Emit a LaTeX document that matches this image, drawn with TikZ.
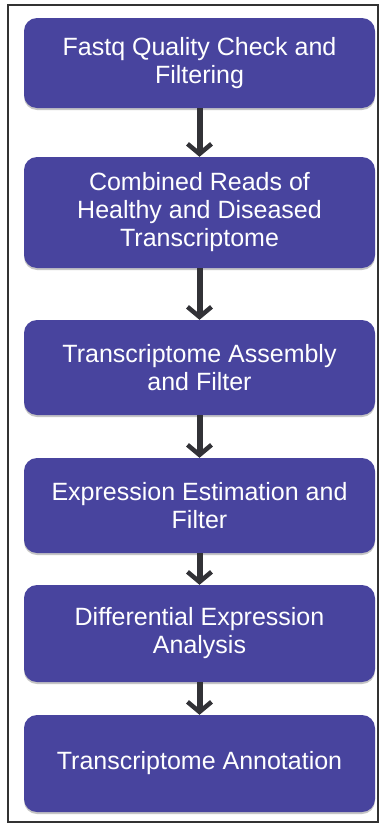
\documentclass[tikz,border=0pt]{standalone}
\usepackage{fontspec}
\setmainfont{Liberation Sans}
\usetikzlibrary{arrows.meta,shadows}
\definecolor{boxblue}{RGB}{72,68,158}
\definecolor{arrowgray}{RGB}{50,50,55}
\begin{document}
\begin{tikzpicture}[x=1pt,y=-1pt,
  stepbox/.style={draw=none,fill=boxblue,rounded corners=13pt,text=white,
    minimum width=351pt,align=center,font=\fontsize{25}{28}\selectfont,
    drop shadow={shadow xshift=0pt,shadow yshift=-2pt,fill=black!45,opacity=0.5}},
  flow/.style={draw=arrowgray,line width=6pt,-{Straight Barb[length=10pt,width=24pt,line width=4.5pt]}}]
\useasboundingbox (0,0) rectangle (381,825);
\fill[white] (0,0) rectangle (381,825);
\draw[line width=1.2pt,black!80] (8,5) rectangle (378,822);
\node[stepbox,minimum height=90pt] (b1) at (199.5,63) {Fastq Quality Check and\\Filtering};
\node[stepbox,minimum height=111pt] (b2) at (199.5,212.5) {Combined Reads of\\Healthy and Diseased\\Transcriptome};
\node[stepbox,minimum height=95pt] (b3) at (199.5,367.5) {Transcriptome Assembly\\and Filter};
\node[stepbox,minimum height=95pt] (b4) at (199.5,505.5) {Expression Estimation and\\Filter};
\node[stepbox,minimum height=97pt] (b5) at (199.5,633.5) {Differential Expression\\Analysis};
\node[stepbox,minimum height=97pt] (b6) at (199.5,763.5) {Transcriptome Annotation};
\draw[flow] (b1.south) -- (b2.north);
\draw[flow] (b2.south) -- (b3.north);
\draw[flow] (b3.south) -- (b4.north);
\draw[flow] (b4.south) -- (b5.north);
\draw[flow] (b5.south) -- (b6.north);
\end{tikzpicture}
\end{document}
